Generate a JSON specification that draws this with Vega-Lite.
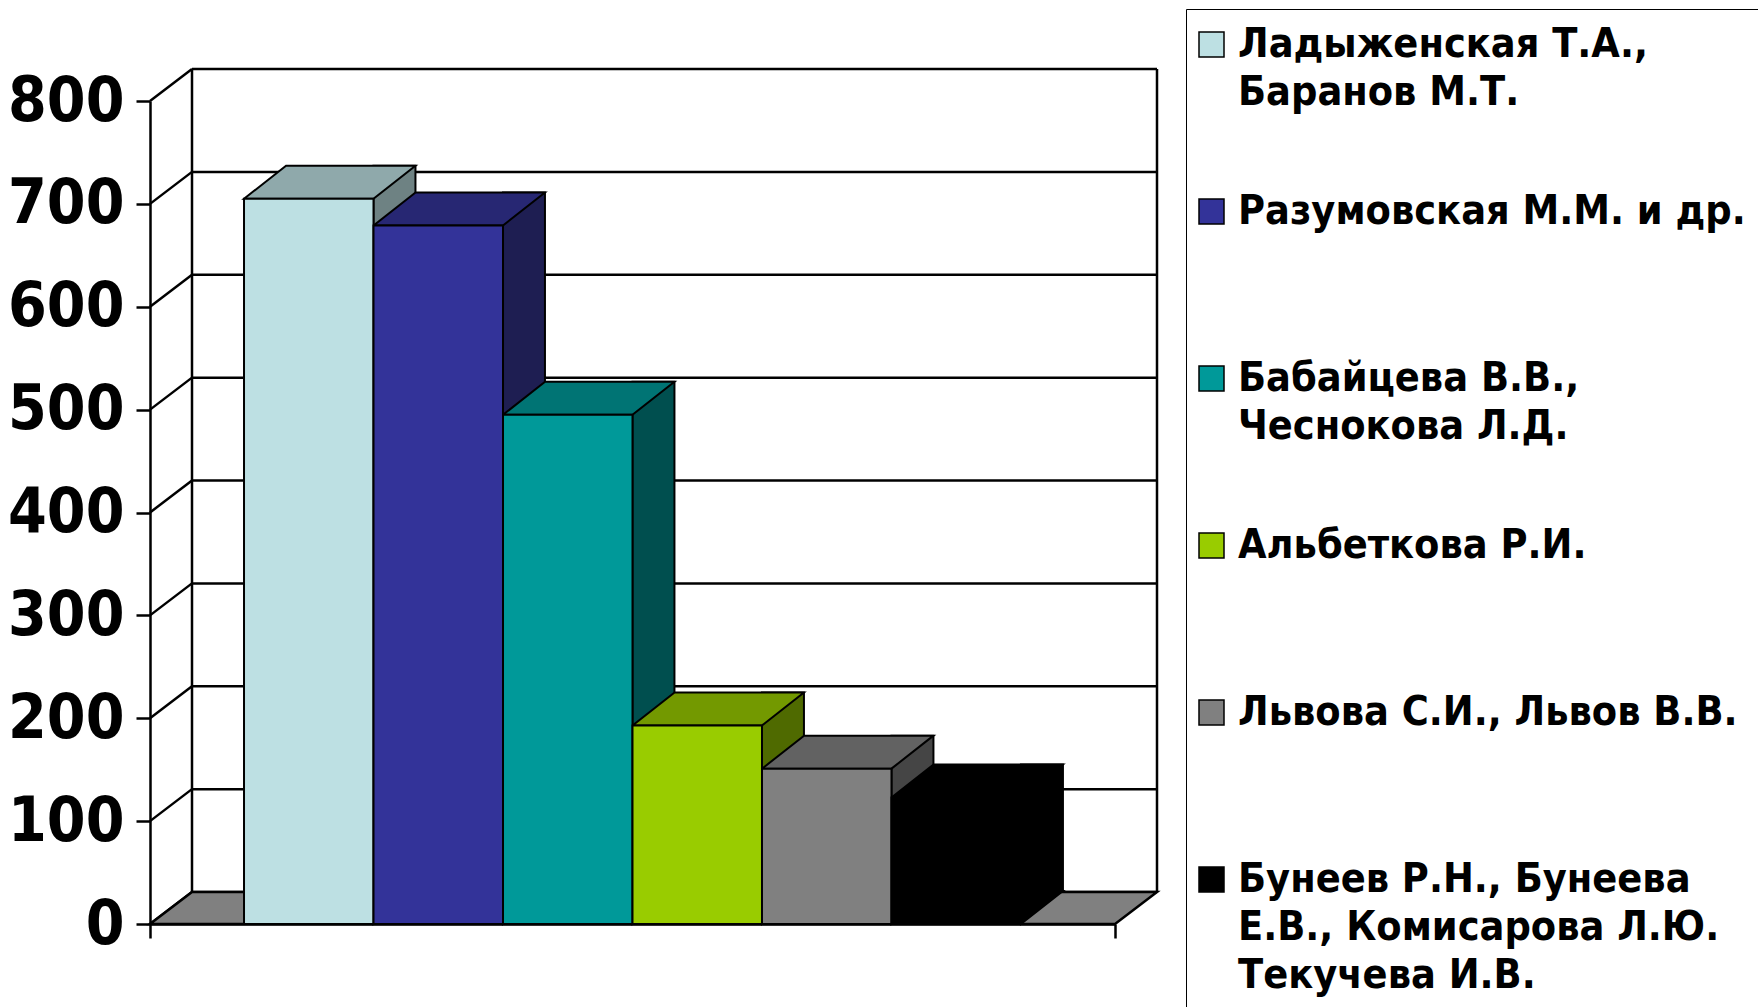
{
  "$schema": "https://vega.github.io/schema/vega-lite/v6.json",
  "autosize": {"type": "none"},
  "width": 965,
  "height": 823,
  "padding": {"left": 150, "top": 101, "right": 643, "bottom": 83},
  "background": "white",
  "config": {
    "view": {"stroke": null},
    "style": {"guide-label": {"lineHeight": 48}},
    "axisY": {
      "domainColor": "black", "domainWidth": 2.5, "tickColor": "black", "tickWidth": 2.5,
      "tickSize": 14, "labelFont": "DejaVu Sans Condensed, Liberation Sans", "labelFontSize": 62,
      "labelFontWeight": "bold", "labelColor": "black", "labelPadding": 12, "grid": false, "zindex": 1
    },
    "axisX": {
      "domainColor": "black", "domainWidth": 2.5, "tickColor": "black", "tickWidth": 2.5,
      "tickSize": 14, "labels": false, "grid": false, "zindex": 1
    }
  },
  "datasets": {
    "grid": [{"v": 0}, {"v": 100}, {"v": 200}, {"v": 300}, {"v": 400}, {"v": 500}, {"v": 600}, {"v": 700}, {"v": 800}],
    "edges": [{"e": 0}, {"e": 1}],
    "one": [{"k": 0}]
  },
  "data": {"values": [
    {"author": "Ладыженская Т.А.,\nБаранов М.Т.", "value": 705},
    {"author": "Разумовская М.М. и др.", "value": 679},
    {"author": "Бабайцева В.В.,\nЧеснокова Л.Д.", "value": 495},
    {"author": "Альбеткова Р.И.", "value": 193},
    {"author": "Львова С.И., Львов В.В.", "value": 151},
    {"author": "Бунеев Р.Н., Бунеева\nЕ.В., Комисарова Л.Ю.\nТекучева И.В.", "value": 123}
  ]},
  "resolve": {"scale": {"x": "independent", "fill": "independent"}},
  "layer": [
    {
      "data": {"name": "grid"},
      "mark": {"type": "rule", "color": "black", "strokeWidth": 2.5, "x2Offset": 42, "y2Offset": -32},
      "encoding": {
        "x": {"datum": 0, "type": "quantitative", "scale": {"domain": [0, 1]}, "axis": null},
        "x2": {"datum": 0},
        "y": {"field": "v", "type": "quantitative", "title": null, "scale": {"domain": [0, 800], "nice": false}, "axis": {"values": [0, 100, 200, 300, 400, 500, 600, 700, 800], "title": null}},
        "y2": {"field": "v"}
      }
    },
    {
      "data": {"name": "grid"},
      "mark": {"type": "rule", "color": "black", "strokeWidth": 2.5, "xOffset": 42, "x2Offset": 42, "yOffset": -32, "y2Offset": -32},
      "encoding": {
        "x": {"datum": 0, "type": "quantitative", "scale": {"domain": [0, 1]}, "axis": null},
        "x2": {"datum": 1},
        "y": {"field": "v", "type": "quantitative", "title": null, "scale": {"domain": [0, 800], "nice": false}, "axis": {"values": [0, 100, 200, 300, 400, 500, 600, 700, 800], "title": null}},
        "y2": {"field": "v"}
      }
    },
    {
      "data": {"name": "edges"},
      "mark": {"type": "rule", "color": "black", "strokeWidth": 2.5, "xOffset": 42, "yOffset": -32, "y2Offset": -32},
      "encoding": {
        "x": {"field": "e", "type": "quantitative", "scale": {"domain": [0, 1]}, "axis": null},
        "y": {"datum": 800, "type": "quantitative", "title": null, "scale": {"domain": [0, 800], "nice": false}, "axis": {"values": [0, 100, 200, 300, 400, 500, 600, 700, 800], "title": null}},
        "y2": {"datum": 0}
      }
    },
    {
      "data": {"name": "one"},
      "mark": {"type": "point", "shape": "M0,0L965,0L1007,-32L42,-32Z", "size": 4, "filled": true, "fill": "#808080", "opacity": 1, "stroke": "black", "strokeWidth": 2.5},
      "encoding": {
        "x": {"datum": 0, "type": "quantitative", "scale": {"domain": [0, 1]}, "axis": {"values": [0, 1], "title": null, "labels": false}},
        "y": {"datum": 0, "type": "quantitative", "title": null, "scale": {"domain": [0, 800], "nice": false}, "axis": {"values": [0, 100, 200, 300, 400, 500, 600, 700, 800], "title": null}}
      }
    },
    {
      "mark": {"type": "bar", "width": 42, "xOffset": 85.7, "yOffset": -33, "y2Offset": -33, "stroke": "black", "strokeWidth": 2},
      "encoding": {
        "x": {"field": "author", "type": "nominal", "sort": null, "scale": {"type": "band", "paddingInner": 0, "paddingOuter": 0.726}, "axis": null},
        "y": {"field": "value", "type": "quantitative", "title": null, "scale": {"domain": [0, 800], "nice": false}, "axis": {"values": [0, 100, 200, 300, 400, 500, 600, 700, 800], "title": null}},
        "fill": {"field": "author", "type": "nominal", "scale": {"domain": ["Ладыженская Т.А.,\nБаранов М.Т.", "Разумовская М.М. и др.", "Бабайцева В.В.,\nЧеснокова Л.Д.", "Альбеткова Р.И.", "Львова С.И., Львов В.В.", "Бунеев Р.Н., Бунеева\nЕ.В., Комисарова Л.Ю.\nТекучева И.В."], "range": ["#6E8283", "#1E1E52", "#004F4F", "#4F6A00", "#454545", "#000000"]}, "legend": null}
      }
    },
    {
      "mark": {"type": "point", "shape": "M64.7,-33L106.7,-33L64.7,0Z", "size": 4, "filled": true, "opacity": 1, "stroke": "black", "strokeWidth": 2},
      "encoding": {
        "x": {"field": "author", "type": "nominal", "sort": null, "scale": {"type": "band", "paddingInner": 0, "paddingOuter": 0.726}, "axis": null},
        "y": {"datum": 0, "type": "quantitative", "title": null, "scale": {"domain": [0, 800], "nice": false}, "axis": {"values": [0, 100, 200, 300, 400, 500, 600, 700, 800], "title": null}},
        "fill": {"field": "author", "type": "nominal", "scale": {"domain": ["Ладыженская Т.А.,\nБаранов М.Т.", "Разумовская М.М. и др.", "Бабайцева В.В.,\nЧеснокова Л.Д.", "Альбеткова Р.И.", "Львова С.И., Львов В.В.", "Бунеев Р.Н., Бунеева\nЕ.В., Комисарова Л.Ю.\nТекучева И.В."], "range": ["#6E8283", "#1E1E52", "#004F4F", "#4F6A00", "#454545", "#000000"]}, "legend": null}
      }
    },
    {
      "mark": {"type": "point", "shape": "M-64.7,0L64.7,0L106.7,-33L-22.7,-33Z", "size": 4, "filled": true, "opacity": 1, "stroke": "black", "strokeWidth": 2},
      "encoding": {
        "x": {"field": "author", "type": "nominal", "sort": null, "scale": {"type": "band", "paddingInner": 0, "paddingOuter": 0.726}, "axis": null},
        "y": {"field": "value", "type": "quantitative", "title": null, "scale": {"domain": [0, 800], "nice": false}, "axis": {"values": [0, 100, 200, 300, 400, 500, 600, 700, 800], "title": null}},
        "fill": {"field": "author", "type": "nominal", "scale": {"domain": ["Ладыженская Т.А.,\nБаранов М.Т.", "Разумовская М.М. и др.", "Бабайцева В.В.,\nЧеснокова Л.Д.", "Альбеткова Р.И.", "Львова С.И., Львов В.В.", "Бунеев Р.Н., Бунеева\nЕ.В., Комисарова Л.Ю.\nТекучева И.В."], "range": ["#8FA9AB", "#272773", "#007474", "#739900", "#626262", "#000000"]}, "legend": null}
      }
    },
    {
      "mark": {"type": "bar", "stroke": "black", "strokeWidth": 2},
      "encoding": {
        "x": {"field": "author", "type": "nominal", "sort": null, "scale": {"type": "band", "paddingInner": 0, "paddingOuter": 0.726}, "axis": null},
        "y": {"field": "value", "type": "quantitative", "title": null, "scale": {"domain": [0, 800], "nice": false}, "axis": {"values": [0, 100, 200, 300, 400, 500, 600, 700, 800], "title": null}},
        "color": {
          "field": "author", "type": "nominal",
          "scale": {"domain": ["Ладыженская Т.А.,\nБаранов М.Т.", "Разумовская М.М. и др.", "Бабайцева В.В.,\nЧеснокова Л.Д.", "Альбеткова Р.И.", "Львова С.И., Львов В.В.", "Бунеев Р.Н., Бунеева\nЕ.В., Комисарова Л.Ю.\nТекучева И.В."], "range": ["#BDE0E3", "#333399", "#009999", "#99CC00", "#808080", "#000000"]},
          "legend": {
            "title": null, "orient": "none", "legendX": 1036, "legendY": -92, "direction": "vertical",
            "padding": 15, "strokeColor": "black",
            "gridAlign": "all", "rowPadding": 29,
            "symbolType": "square", "symbolSize": 625, "symbolStrokeColor": "black", "symbolStrokeWidth": 1.5, "symbolOpacity": 1,
            "symbolOffset": -10,
            "labelOffset": 6, "labelLimit": 900, "labelFont": "DejaVu Sans Condensed, Liberation Sans", "labelFontSize": 41,
            "labelFontWeight": "bold", "labelColor": "black",
            "labelExpr": "split(datum.label, '\\n')"
          }
        }
      }
    }
  ]
}
